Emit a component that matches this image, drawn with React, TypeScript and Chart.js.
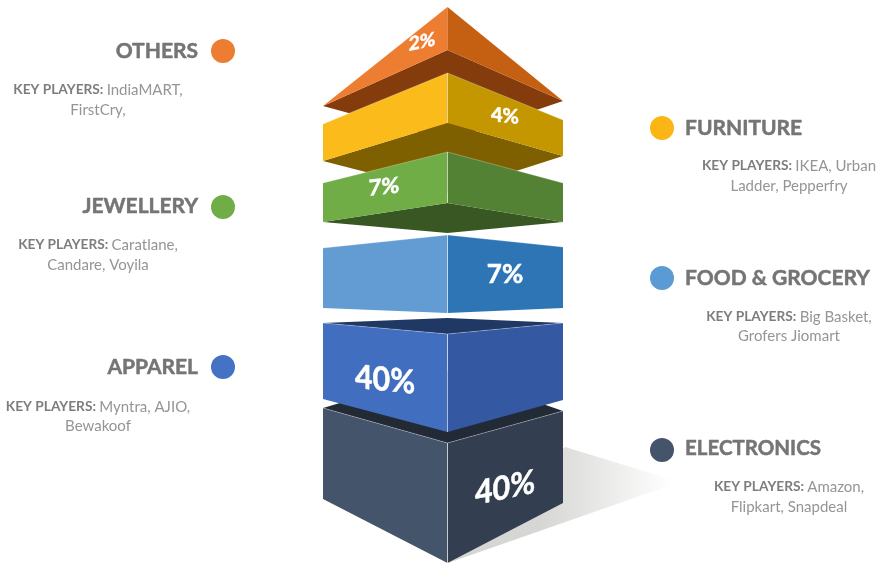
import React, { useEffect, useRef } from "react";
import { Chart, registerables } from "chart.js";

Chart.register(...registerables);

// Tiers, listed from the base of the stack to its tip.
const tierNames = ["ELECTRONICS", "APPAREL", "FOOD & GROCERY", "JEWELLERY", "FURNITURE", "OTHERS"];
const tierShares = [40, 40, 7, 7, 4, 2];
const playerLines = [
  ["Amazon,", "Flipkart, Snapdeal"],
  ["Myntra, AJIO,", "Bewakoof"],
  ["Big Basket,", "Grofers Jiomart"],
  ["Caratlane,", "Candare, Voyila"],
  ["IKEA, Urban", "Ladder, Pepperfry"],
  ["IndiaMART,", "FirstCry,"],
];

// Block outline on the page-sized axes: [left corner, ridge, right corner].
const cornerX = [323, 447.5, 563];
const upperEdgeY = [
  [408, 443, 411],
  [323, 334, 323],
  [248, 235, 247],
  [183, 152, 183],
  [124, 73, 120],
  [106, 50, 101],
];
const lowerEdgeY = [
  [499, 563, 503],
  [399, 432, 400],
  [308, 313, 308],
  [222, 203, 222],
  [161, 123, 156],
  [106, 50, 101],
];
// Fourth corner of the dark cap or underside; null where a tier has none.
const capCornerY = [371, 318, null, 233, 193, 140];
const apexY = 7;

const leftFaceColors = ["#44546A", "#416EBE", "#629CD2", "#70AD47", "#FBBC1B", "#ED7D31"];
const rightFaceColors = ["#333F50", "#3558A2", "#2E75B6", "#548235", "#C49600", "#C55F11"];
const capColors = ["#222B35", "#203864", "", "#385723", "#7F6000", "#843C0C"];
const dotColors = ["#44546A", "#4472C4", "#5B9BD5", "#70AD47", "#FBB616", "#ED7D31"];
const rimColor = "rgba(255,255,255,0.28)";

// Callouts: dot centre, heading anchor, centre of the two text lines.
const dotX = [662, 223, 662, 223, 662, 223];
const dotY = [450, 367, 278, 207, 128, 51];
const headingX = [685, 198, 685, 198, 685, 198];
const headingY = [448, 367, 278, 206, 128, 51];
const playersX = [789, 98, 789, 98, 789, 98];
const playersY = [[487, 507], [407, 426], [317, 336], [245, 265], [166, 186], [90, 110]];

// Share labels: centre, font size, width factor and the slope of the face they sit on.
const shareX = [505, 385, 505, 384, 505, 422];
const shareY = [488, 380, 275, 187, 116, 42];
const shareSize = [33, 33, 26, 22, 20, 19];
const shareStretch = [0.92, 0.92, 1, 1, 1, 1];
const shareSlope = [-0.2, 0.1, 0, -0.1, 0.1, -0.2];

const shadowX = [565, 680, 448];
const shadowY = [447, 482, 563];

const FONT = "Lato, 'Open Sans', sans-serif";

type Pt = { x: number; y: number };
const poly = (xs: number[], ys: number[]): Pt[] => xs.map((x, i) => ({ x, y: ys[i] }));

const face = (data: Pt[], color: unknown, order: number) => ({
  type: "scatter",
  data,
  showLine: true,
  tension: 0,
  fill: "shape",
  backgroundColor: color,
  borderWidth: 0,
  pointRadius: 0,
  order,
});

const rim = (data: Pt[], order: number) => ({
  type: "scatter",
  data,
  showLine: true,
  tension: 0,
  fill: false,
  borderColor: rimColor,
  borderWidth: 1,
  pointRadius: 0,
  order,
});

// Horizontal fade of the cast shadow, built once the x scale has its pixel range.
const shadowFade = (c: any) => {
  const x = c.chart.scales.x;
  const from = x ? x.getPixelForValue(540) : NaN;
  const to = x ? x.getPixelForValue(672) : NaN;
  if (!Number.isFinite(from) || !Number.isFinite(to)) return "#e4e4e2";
  const g = c.chart.ctx.createLinearGradient(from, 0, to, 0);
  g.addColorStop(0, "#d6d6d4");
  g.addColorStop(1, "#ffffff");
  return g;
};

function buildDatasets() {
  const [lx, rx, ex] = cornerX;
  // Higher tiers sit behind lower ones, except the apparel block, which overlaps the base.
  const paintOrder = [5, 4, 3, 2, 0, 1];
  const layers: any[] = [{ data: poly(shadowX, shadowY), color: shadowFade }];
  for (const t of paintOrder) {
    const up = upperEdgeY[t];
    const lo = lowerEdgeY[t];
    const cap = capCornerY[t];
    if (t === 5) {
      layers.push({ data: poly([lx, rx, ex, rx], [up[0], up[1], up[2], cap as number]), color: capColors[t] });
      layers.push({ data: poly([rx, lx, rx], [apexY, up[0], up[1]]), color: leftFaceColors[t] });
      layers.push({ data: poly([rx, ex, rx], [apexY, up[2], up[1]]), color: rightFaceColors[t] });
      continue;
    }
    if (cap !== null && t !== 1 && t !== 0) {
      layers.push({ data: poly([lx, rx, ex, rx], [lo[0], lo[1], lo[2], cap]), color: capColors[t] });
    }
    if (t === 0 || t === 1) {
      layers.push({ data: poly([lx, rx, ex, rx], [up[0], cap as number, up[2], up[1]]), color: capColors[t] });
    }
    layers.push({ data: poly([lx, rx, rx, lx], [up[0], up[1], lo[1], lo[0]]), color: leftFaceColors[t] });
    layers.push({ data: poly([rx, ex, ex, rx], [up[1], up[2], lo[2], lo[1]]), color: rightFaceColors[t] });
    // Pale highlight along the top edges and the ridge of the block.
    layers.push({ rim: true, data: poly([lx, rx, ex], [up[0], up[1], up[2]]) });
    layers.push({ rim: true, data: poly([rx, rx], [up[1], lo[1]]) });
  }
  const n = layers.length;
  const datasets: any[] = layers.map((l, i) =>
    l.rim ? rim(l.data, n - i) : face(l.data, l.color, n - i)
  );
  datasets.push({
    type: "scatter",
    data: poly(dotX, dotY),
    pointRadius: 12,
    pointHoverRadius: 12,
    pointBackgroundColor: dotColors,
    pointBorderWidth: 0,
    showLine: false,
    order: 0,
  });
  return datasets;
}

const calloutText = {
  id: "calloutText",
  afterDatasetsDraw(chart: any) {
    const { ctx, scales } = chart;
    const px = (v: number) => scales.x.getPixelForValue(v);
    const py = (v: number) => scales.y.getPixelForValue(v);
    ctx.save();
    ctx.textBaseline = "middle";
    ctx.lineJoin = "round";
    tierNames.forEach((name, i) => {
      ctx.font = `bold 21px ${FONT}`;
      ctx.fillStyle = "#757575";
      ctx.strokeStyle = "#757575";
      ctx.lineWidth = 0.5;
      ctx.textAlign = i % 2 === 0 ? "left" : "right";
      const headingW = ctx.measureText(name).width;
      // Long headings are held to the width of their column.
      const squeeze = name === "ELECTRONICS" ? 136 / headingW : 1;
      ctx.save();
      ctx.translate(px(headingX[i]), py(headingY[i]));
      ctx.scale(squeeze, 1);
      ctx.fillText(name, 0, 0);
      ctx.strokeText(name, 0, 0);
      ctx.restore();

      // First line mixes a bold lead-in with regular text, centred as one run.
      const lead = "KEY PLAYERS: ";
      const [first, second] = playerLines[i];
      ctx.font = `bold 13.7px ${FONT}`;
      const leadW = ctx.measureText(lead).width;
      ctx.font = `15px ${FONT}`;
      const firstW = ctx.measureText(first).width;
      const start = px(playersX[i]) - (leadW + firstW) / 2;
      ctx.textAlign = "left";
      ctx.font = `bold 13.7px ${FONT}`;
      ctx.fillStyle = "#7d7d7d";
      ctx.fillText(lead, start, py(playersY[i][0]));
      ctx.font = `15px ${FONT}`;
      ctx.fillStyle = "#959595";
      ctx.fillText(first, start + leadW, py(playersY[i][0]));
      ctx.textAlign = "center";
      ctx.fillText(second, px(playersX[i]), py(playersY[i][1]));
    });
    ctx.restore();

    // Share labels are sheared to lie along their faces.
    tierShares.forEach((share, i) => {
      ctx.save();
      ctx.transform(shareStretch[i], shareSlope[i] * shareStretch[i], 0, 1, px(shareX[i]), py(shareY[i]));
      ctx.font = `bold ${shareSize[i]}px ${FONT}`;
      ctx.fillStyle = "#ffffff";
      ctx.strokeStyle = "#ffffff";
      ctx.lineWidth = 0.5;
      ctx.textAlign = "center";
      ctx.textBaseline = "middle";
      ctx.fillText(`${share}%`, 0, 0);
      ctx.strokeText(`${share}%`, 0, 0);
      ctx.restore();
    });
  },
};

export default function App() {
  const ref = useRef<HTMLCanvasElement>(null);
  useEffect(() => {
    const chart = new Chart(ref.current as HTMLCanvasElement, {
      type: "scatter",
      data: { datasets: buildDatasets() },
      options: {
        animation: false,
        responsive: false,
        layout: { padding: 0, autoPadding: false },
        plugins: { legend: { display: false }, tooltip: { enabled: false } },
        scales: {
          x: { type: "linear", min: 0, max: 879, display: false },
          y: { type: "linear", min: 0, max: 564, reverse: true, display: false },
        },
      },
      plugins: [calloutText],
    } as any);
    return () => chart.destroy();
  }, []);
  return (
    <div style={{ position: "absolute", left: 0, top: 0, width: 879, height: 564, background: "#fff" }}>
      <canvas ref={ref} width={879} height={564} style={{ display: "block" }} />
    </div>
  );
}
